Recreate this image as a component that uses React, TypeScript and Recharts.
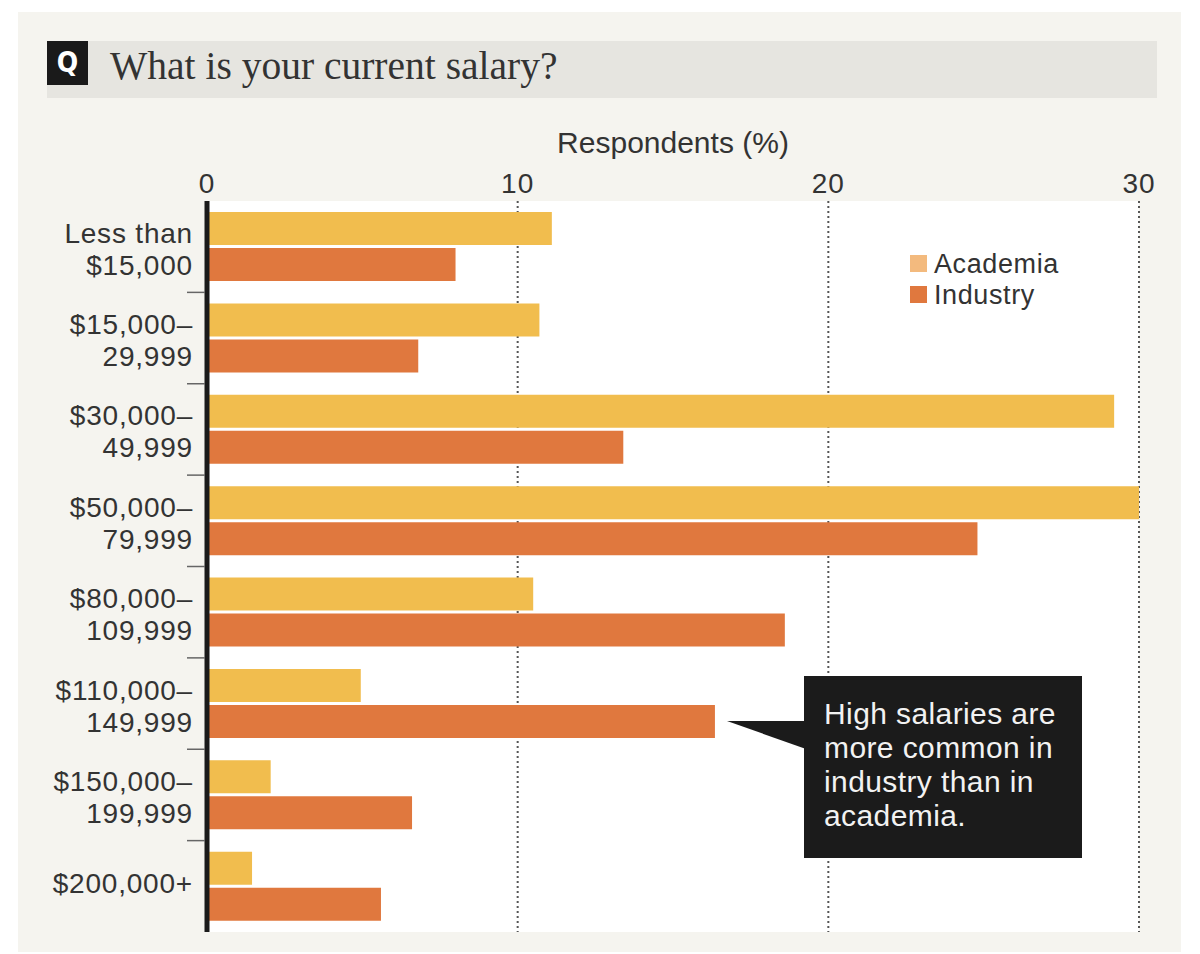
import { BarChart, Bar, XAxis, YAxis, CartesianGrid, Legend } from "recharts";

// salary bands, top to bottom
const categories = [
  "Less than\n$15,000",
  "$15,000–\n29,999",
  "$30,000–\n49,999",
  "$50,000–\n79,999",
  "$80,000–\n109,999",
  "$110,000–\n149,999",
  "$150,000–\n199,999",
  "$200,000+",
];
const academia = [11.1, 10.7, 29.2, 30.0, 10.5, 4.95, 2.05, 1.45];
const industry = [8.0, 6.8, 13.4, 24.8, 18.6, 16.35, 6.6, 5.6];
const xTicks = [0, 10, 20, 30];
const legendColors = ["#f3ba7e", "#e0783e"];
const calloutLines = ["High salaries are", "more common in", "industry than in", "academia."];

const data = categories.map((label, i) => ({
  label,
  academia: academia[i],
  industry: industry[i],
}));

const W = 1200;
const H = 954;
const margin = { top: 171, right: 61, bottom: 22, left: 17 };
const X_AXIS_H = 30;
const Y_AXIS_W = 190;
const band = (H - margin.top - X_AXIS_H - margin.bottom) / categories.length;

const FONT = '"Liberation Sans", Arial, sans-serif';
const INK = "#333";

function CategoryTick(props: any) {
  const { x, y, payload, index } = props;
  const lines = String(payload.value).split("\n");
  const first = lines.length === 1 ? 7 : -4;
  return (
    <g>
      <text x={x} y={y + first} textAnchor="end" fontSize={28} fontFamily={FONT} fill={INK} letterSpacing={0.8}>
        {lines.map((ln, k) => (
          <tspan key={k} x={x} dy={k === 0 ? 0 : 32}>
            {ln}
          </tspan>
        ))}
      </text>
      {index < categories.length - 1 && (
        <line x1={x - 6} x2={x + 12} y1={y + band / 2} y2={y + band / 2} stroke="#666" strokeWidth={1.5} />
      )}
    </g>
  );
}

function LegendBox({ payload }: any) {
  const items = payload || [];
  return (
    <div style={{ fontFamily: FONT, fontSize: 27, color: INK, lineHeight: "30.5px", whiteSpace: "nowrap", letterSpacing: 0.6 }}>
      {items.map((p: any, i: number) => (
        <span key={p.value}>
          <span
            style={{
              width: 17,
              height: 17,
              background: legendColors[i],
              marginRight: 7,
              display: "inline-block",
              verticalAlign: "1px",
            }}
          />
          {p.value}
          {i < items.length - 1 && <br />}
        </span>
      ))}
    </div>
  );
}

export default function App() {
  return (
    <div style={{ position: "relative", width: W, height: H, background: "#fff", overflow: "hidden" }}>
      <style>{"body{margin:0}"}</style>
      {/* panel + title bar */}
      <div style={{ position: "absolute", left: 18, top: 12, width: 1163, height: 940, background: "#f5f4ef" }} />
      <div style={{ position: "absolute", left: 47, top: 41, width: 1110, height: 57, background: "#e6e5e0" }} />
      <div
        style={{
          position: "absolute",
          left: 47,
          top: 41,
          width: 41,
          height: 44,
          background: "#1a1a1a",
          color: "#fff",
          fontFamily: '"DejaVu Sans Condensed", "Liberation Sans Narrow", sans-serif',
          fontWeight: 700,
          fontSize: 28,
          lineHeight: "44px",
          textAlign: "center",
        }}
      >
        Q
      </div>
      <div
        style={{
          position: "absolute",
          left: 110,
          top: 47,
          fontFamily: '"Liberation Serif", serif',
          fontSize: 39.5,
          lineHeight: 1,
          color: INK,
          whiteSpace: "nowrap",
        }}
      >
        What is your current salary?
      </div>

      <div style={{ position: "absolute", left: 0, top: 0 }}>
        <BarChart width={W} height={H} data={data} layout="vertical" margin={margin} barSize={33} barGap={3}>
          <CartesianGrid
            horizontal={false}
            fill="#fff"
            stroke="#555"
            strokeWidth={2}
            strokeDasharray="2 3"
          />
          <XAxis
            type="number"
            orientation="top"
            domain={[0, 30]}
            ticks={xTicks}
            height={X_AXIS_H}
            axisLine={false}
            tickLine={false}
            tickSize={0}
            tickMargin={8}
            tick={{ fontSize: 28, fill: INK, fontFamily: FONT, letterSpacing: 1 }}
            label={{ value: "Respondents (%)", position: "top", offset: 18, fontSize: 30, fill: INK, fontFamily: FONT }}
          />
          <YAxis
            type="category"
            dataKey="label"
            width={Y_AXIS_W}
            axisLine={{ stroke: "#1a1a1a", strokeWidth: 5 }}
            tickLine={false}
            tickSize={0}
            tickMargin={14}
            interval={0}
            tick={<CategoryTick />}
          />
          <Legend
            layout="vertical"
            align="center"
            verticalAlign="middle"
            wrapperStyle={{ left: 910, top: 249, width: 200 }}
            content={<LegendBox />}
          />
          <Bar dataKey="academia" name="Academia" fill="#f1bd4e" isAnimationActive={false} />
          <Bar dataKey="industry" name="Industry" fill="#e0783e" isAnimationActive={false} />
        </BarChart>
      </div>

      {/* callout */}
      <svg style={{ position: "absolute", left: 0, top: 0 }} width={W} height={H} pointerEvents="none">
        <polygon points="727,721 806,721 806,749" fill="#1b1b1b" />
      </svg>
      <div
        style={{
          position: "absolute",
          left: 804,
          top: 676,
          width: 278,
          height: 182,
          boxSizing: "border-box",
          padding: "21px 0 0 20px",
          background: "#1b1b1b",
          color: "#f2f2f2",
          fontFamily: FONT,
          fontSize: 30,
          lineHeight: "34px",
          letterSpacing: 0.4,
          whiteSpace: "nowrap",
        }}
      >
        {calloutLines.map((l, i) => (
          <span key={l}>
            {l}
            {i < calloutLines.length - 1 && <br />}
          </span>
        ))}
      </div>
    </div>
  );
}
